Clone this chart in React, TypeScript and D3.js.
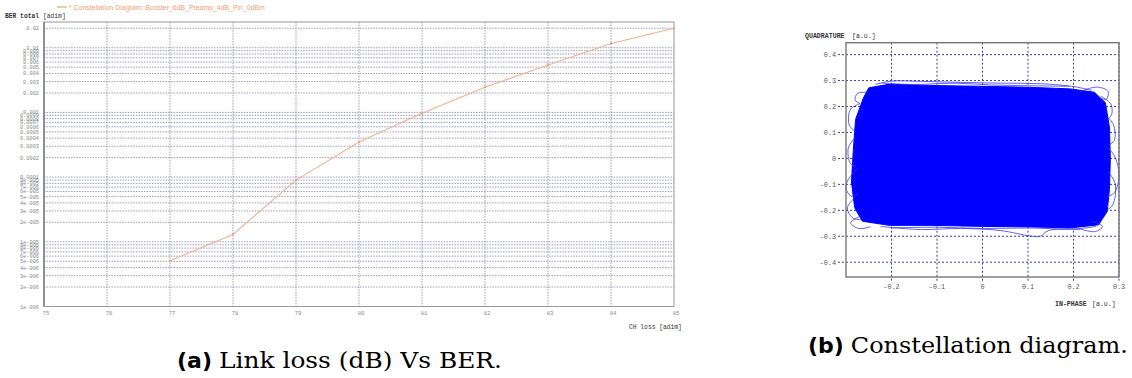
import * as d3 from 'd3';

// ---- left chart: link loss vs BER ----
const linkLoss = [77, 78, 79, 80, 81, 82, 83, 84, 85];
const berTotal = [5.1e-6, 1.3e-5, 9.0e-5, 3.5e-4, 9.7e-4, 2.45e-3, 5.4e-3, 1.16e-2, 2.0e-2];
const lossTicks = [75, 76, 77, 78, 79, 80, 81, 82, 83, 84, 85];
const berTickValues = [
    1e-6, 2e-6, 3e-6, 4e-6, 5e-6, 6e-6, 7e-6, 8e-6, 9e-6,
    1e-5, 2e-5, 3e-5, 4e-5, 5e-5, 6e-5, 7e-5, 8e-5, 9e-5,
    1e-4, 2e-4, 3e-4, 4e-4, 5e-4, 6e-4, 7e-4, 8e-4, 9e-4,
    1e-3, 2e-3, 3e-3, 4e-3, 5e-3, 6e-3, 7e-3, 8e-3, 9e-3,
    1e-2, 2e-2
];
const berTickLabels = [
    '1e-006', '2e-006', '3e-006', '4e-006', '5e-006', '6e-006', '7e-006', '8e-006', '9e-006',
    '1e-005', '2e-005', '3e-005', '4e-005', '5e-005', '6e-005', '7e-005', '8e-005', '9e-005',
    '0.0001', '0.0002', '0.0003', '0.0004', '0.0005', '0.0006', '0.0007', '0.0008', '0.0009',
    '0.001', '0.002', '0.003', '0.004', '0.005', '0.006', '0.007', '0.008', '0.009',
    '0.01', '0.02'
];
const legendLabel = '* Constellation Diagram: Booster_6dB_Preamp_4dB_Pin_0dBm';

// ---- right chart: constellation ----
const inPhaseTicks = [-0.2, -0.1, 0, 0.1, 0.2, 0.3];
const inPhaseLabels = ['-0.2', '-0.1', '0', '0.1', '0.2', '0.3'];
const quadTicks = [0.4, 0.3, 0.2, 0.1, 0, -0.1, -0.2, -0.3, -0.4];
const quadLabels = ['0.4', '0.3', '0.2', '0.1', '0', '-0.1', '-0.2', '-0.3', '-0.4'];
// outline of the dense trace cloud [I, Q]
const cloudOutline: [number, number][] = [
    [-0.262, 0.232], [-0.25, 0.272], [-0.205, 0.286], [-0.114, 0.281], [0, 0.278],
    [0.105, 0.274], [0.193, 0.268], [0.246, 0.255], [0.27, 0.215], [0.279, 0.12],
    [0.281, 0.0], [0.279, -0.12], [0.274, -0.205], [0.255, -0.256], [0.193, -0.268],
    [0.105, -0.264], [0, -0.262], [-0.114, -0.258], [-0.205, -0.258], [-0.264, -0.242],
    [-0.281, -0.19], [-0.288, -0.09], [-0.284, 0.03], [-0.279, 0.15]
];
// stray trace loops poking out of the cloud
const strayTraces: [number, number][][] = [
    [[-0.235, 0.285], [-0.2, 0.298], [-0.136, 0.297], [-0.048, 0.293], [0.04, 0.29], [0.127, 0.288], [0.204, 0.276], [0.24, 0.262]],
    [[-0.22, 0.29], [-0.15, 0.285], [-0.06, 0.29], [0.02, 0.283], [0.11, 0.28], [0.19, 0.278]],
    [[0.215, 0.258], [0.252, 0.275], [0.276, 0.258], [0.272, 0.228], [0.255, 0.236]],
    [[0.27, 0.05], [0.29, 0.01], [0.3, -0.065], [0.29, -0.131], [0.272, -0.15]],
    [[0.274, 0.16], [0.288, 0.13], [0.29, 0.07], [0.276, 0.05]],
    [[0.276, -0.05], [0.292, -0.1], [0.286, -0.18], [0.272, -0.2]],
    [[0.26, 0.24], [0.282, 0.21], [0.284, 0.17], [0.275, 0.15]],
    [[-0.276, -0.04], [-0.296, -0.084], [-0.3, -0.115], [-0.289, -0.145], [-0.272, -0.135]],
    [[-0.27, 0.21], [-0.29, 0.19], [-0.293, 0.128], [-0.28, 0.105]],
    [[-0.28, 0.08], [-0.295, 0.04], [-0.29, -0.02], [-0.278, -0.03]],
    [[-0.28, -0.15], [-0.297, -0.19], [-0.285, -0.23], [-0.266, -0.236]],
    [[-0.255, 0.255], [-0.275, 0.25], [-0.28, 0.225], [-0.268, 0.21]],
    [[-0.224, -0.262], [-0.136, -0.274], [-0.048, -0.27], [0.04, -0.278], [0.105, -0.299], [0.127, -0.3], [0.145, -0.278], [0.215, -0.274]],
    [[-0.2, -0.268], [-0.1, -0.265], [0.0, -0.27], [0.1, -0.268], [0.2, -0.272], [0.25, -0.262]],
    [[-0.268, -0.222], [-0.29, -0.248], [-0.272, -0.27], [-0.246, -0.263]],
    [[0.24, -0.242], [0.264, -0.262], [0.248, -0.282], [0.215, -0.272]]
];

const W = 1132;
const H = 378;
const mono = '"Liberation Mono", "DejaVu Sans Mono", monospace';
const serif = '"DejaVu Serif", "Liberation Serif", serif';
const sansBold = '"DejaVu Sans", "Noto Sans", sans-serif';

const BerChart = () => {
    const m = { left: 44, right: 674, top: 22, bottom: 306.5 };
    const x = d3.scaleLinear().domain([75, 85]).range([m.left, m.right]);
    const y = d3.scaleLog().domain([1e-6, 0.025]).range([m.bottom, m.top]);
    const line = d3.line<number>()
        .x((_, i) => x(linkLoss[i]))
        .y((d) => y(d));

    return (
        <g>
            {/* legend */}
            <line x1={57} x2={67} y1={7} y2={7} stroke="#f0a070" strokeWidth={1.2} />
            <text x={69} y={9.5} fontSize={6.9} fill="#f0a070" fontFamily='"Liberation Sans", Arial, sans-serif'>{legendLabel}</text>
            <text x={5} y={18} fontSize={6.3} fill="#333" fontFamily={mono} fontWeight="bold">BER total</text>
            <text x={43} y={18} fontSize={6.3} fill="#333" fontFamily={mono}>[adim]</text>

            {/* horizontal grid + labels */}
            {berTickValues.map((v, i) => (
                <g key={'y' + i}>
                    <line x1={m.left} x2={m.right} y1={y(v)} y2={y(v)}
                        stroke="#8e8eba" strokeWidth={0.9} strokeDasharray="1.5,1.2" />
                    <text x={39} y={y(v) + 2} fontSize={5.3} textAnchor="end" fill="#888" fontFamily={mono}>
                        {berTickLabels[i]}
                    </text>
                </g>
            ))}

            {/* vertical grid + labels */}
            {lossTicks.map((t) => (
                <g key={'x' + t}>
                    {t > 75 && t < 85 && (
                        <line x1={x(t)} x2={x(t)} y1={m.top} y2={m.bottom}
                            stroke="#8e8eba" strokeWidth={0.9} strokeDasharray="1.5,1.2" />
                    )}
                    <text x={x(t) + 2} y={315} fontSize={5.6} textAnchor="middle" fill="#888" fontFamily={mono}>{t}</text>
                </g>
            ))}
            <text x={629} y={329} fontSize={6.3} fill="#333" fontFamily={mono}>CH loss [adim]</text>

            {/* frame */}
            <rect x={m.left} y={m.top} width={m.right - m.left} height={m.bottom - m.top}
                fill="none" stroke="#999" strokeWidth={1} />
            <line x1={m.left} x2={m.left} y1={m.top} y2={m.bottom} stroke="#777" strokeWidth={1.4} />

            {/* BER curve */}
            <path d={line(berTotal) || ''} fill="none" stroke="#f2b08a" strokeWidth={1.1} />
            {berTotal.map((v, i) => (
                <circle key={'p' + i} cx={x(linkLoss[i])} cy={y(v)} r={1} fill="#e89a70" />
            ))}
        </g>
    );
};

const ConstellationChart = () => {
    const m = { left: 846, right: 1119, top: 42.7, bottom: 277 };
    const x = d3.scaleLinear().domain([-0.3, 0.3]).range([m.left, m.right]);
    const y = d3.scaleLinear().domain([-0.457, 0.446]).range([m.bottom, m.top]);
    const closed = d3.line<[number, number]>()
        .x((d) => x(d[0])).y((d) => y(d[1]))
        .curve(d3.curveLinearClosed);
    const open = d3.line<[number, number]>()
        .x((d) => x(d[0])).y((d) => y(d[1]))
        .curve(d3.curveCatmullRom.alpha(0.5));

    return (
        <g>
            <text x={805} y={38} fontSize={6.6} fill="#333" fontFamily={mono} fontWeight="bold">QUADRATURE</text>
            <text x={852} y={38} fontSize={6.6} fill="#333" fontFamily={mono}>[a.u.]</text>

            {quadTicks.map((q, i) => (
                <g key={'q' + i}>
                    <line x1={838} x2={m.right} y1={y(q)} y2={y(q)}
                        stroke="#3a3aa0" strokeWidth={1} strokeDasharray="2,2" />
                    <text x={836} y={y(q) + 2.3} fontSize={6.8} textAnchor="end" fill="#555" fontFamily={mono}>{quadLabels[i]}</text>
                </g>
            ))}
            {inPhaseTicks.map((v, i) => (
                <g key={'i' + i}>
                    <line x1={x(v)} x2={x(v)} y1={m.top} y2={m.bottom + 4}
                        stroke="#3a3aa0" strokeWidth={1} strokeDasharray="2,2" />
                    <text x={x(v)} y={289} fontSize={6.8} textAnchor="middle" fill="#555" fontFamily={mono}>{inPhaseLabels[i]}</text>
                </g>
            ))}

            <path d={closed(cloudOutline) || ''} fill="#0000ff" stroke="#0000ff" strokeWidth={1} strokeLinejoin="round" />
            {strayTraces.map((tr, i) => (
                <path key={'s' + i} d={open(tr) || ''} fill="none" stroke="#3a3ae6" strokeWidth={0.8} />
            ))}

            <rect x={m.left} y={m.top} width={m.right - m.left} height={m.bottom - m.top}
                fill="none" stroke="#777" strokeWidth={1.4} />

            <text x={1055} y={306} fontSize={6.6} fill="#333" fontFamily={mono} fontWeight="bold">IN-PHASE</text>
            <text x={1092} y={306} fontSize={6.6} fill="#333" fontFamily={mono}>[a.u.]</text>
        </g>
    );
};

export default function App() {
    return (
        <svg width={W} height={H} style={{ position: 'absolute', left: 0, top: 0, background: '#fff' }}>
            <rect width={W} height={H} fill="#fff" />
            <BerChart />
            <ConstellationChart />
            <text x={177} y={368} fontSize={22}>
                <tspan fontFamily={sansBold} fontWeight="bold">(a)</tspan>
                <tspan fontFamily={serif} dx={7} textLength={283} lengthAdjust="spacingAndGlyphs">Link loss (dB) Vs BER.</tspan>
            </text>
            <text x={808} y={353} fontSize={22}>
                <tspan fontFamily={sansBold} fontWeight="bold">(b)</tspan>
                <tspan fontFamily={serif} dx={7} textLength={277} lengthAdjust="spacingAndGlyphs">Constellation diagram.</tspan>
            </text>
        </svg>
    );
}
